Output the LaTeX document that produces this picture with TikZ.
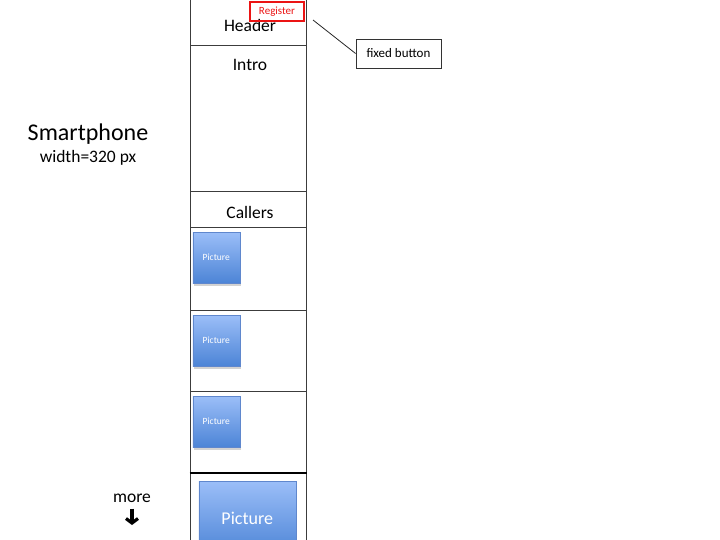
\documentclass[tikz,border=0pt]{standalone}
\usepackage{fontspec}
\setmainfont{Carlito}
\usetikzlibrary{arrows.meta, positioning, shadows}
\definecolor{picTop}{RGB}{155,190,248}
\definecolor{picBot}{RGB}{ 76,132,214}
\definecolor{picEdge}{RGB}{ 95,135,205}
\definecolor{regRed}{RGB}{235, 20, 20}
\definecolor{colEdge}{RGB}{ 60, 60, 60}
\tikzset{
  section/.style={
    draw=colEdge, line width=1pt, minimum width=116pt, inner sep=0pt,
    anchor=north,
  },
  picbox/.style 2 args={
    draw=picEdge, line width=0.5pt, top color=picTop, bottom color=picBot,
    minimum width=#1, minimum height=#2, inner sep=0pt, text=white,
    anchor=north west,
    drop shadow={shadow xshift=1.5pt, shadow yshift=-2.5pt, fill=black!35},
  },
  regbox/.style={
    draw=regRed, line width=2pt, text=regRed, minimum width=54pt,
    minimum height=19pt, inner sep=0pt, font=\fontsize{11}{13}\selectfont,
  },
  notebox/.style={
    draw=black!80, line width=0.8pt, minimum width=85pt, minimum height=29pt,
    inner sep=0pt, font=\fontsize{13}{15}\selectfont,
  },
  label/.style={font=\fontsize{17.5}{20}\selectfont, inner sep=0pt},
  note/.style={draw=black!85, line width=0.8pt},
}

\begin{document}
\begin{tikzpicture}[x=1pt, y=-1pt]
\useasboundingbox (0,0) rectangle (720,540);

% =========================================================================
% phone column, sections stacked top to bottom
% =========================================================================

\node[section, minimum height=47pt] (header)  at (248,-2)  {};
\node[section, minimum height=146pt] (intro)  at (248,45)  {};
\node[section, minimum height=36pt] (callers) at (248,191) {};
\node[section, minimum height=83pt] (row1)    at (248,227) {};
\node[section, minimum height=81pt] (row2)    at (248,310) {};
\node[section, minimum height=81pt] (row3)    at (248,391) {};
\node[section, minimum height=80pt] (last)    at (248,472) {};
\draw[line width=1.8pt, black] (row3.south west) -- (row3.south east);

\node[label] (headerText)  at (250,25)  {Header};
\node[label] (introText)   at (250,65)  {Intro};
\node[label] (callersText) at (250,212) {Callers};

% =========================================================================
% pictures
% =========================================================================

\foreach \r in {row1, row2, row3}{
  \node[picbox={47pt}{51pt}, font=\fontsize{9.5}{11}\selectfont]
    (\r-pic) at ([xshift=3pt, yshift=-5pt]\r.north west) {Picture};
}
\node[picbox={97pt}{74pt}, font=\fontsize{18}{21}\selectfont]
  (bigPic) at ([xshift=9pt, yshift=-9pt]last.north west) {Picture};

% =========================================================================
% register button + note
% =========================================================================

\node[regbox, anchor=north east] (register) at (305,1) {Register};
\node[notebox] (fixed) at (398.5,53.5) {fixed button};
\coordinate (regTip) at (313,20);
\draw[note] (regTip) -- (fixed.west);

% =========================================================================
% left side labels
% =========================================================================

\node[font=\fontsize{24}{28}\selectfont, inner sep=0pt] (phone) at (88,134) {Smartphone};
\node[font=\fontsize{17.5}{20}\selectfont, inner sep=0pt] (phoneWidth) at (88,158) {width=320 px};

\node[label] (more) at (132,498) {more};
\coordinate (moreEnd) at (132,525);
\draw[line width=3.2pt, -{Straight Barb[length=4.5pt, width=12pt]}]
  ([yshift=-6pt]more.south) -- (moreEnd);

\end{tikzpicture}
\end{document}
